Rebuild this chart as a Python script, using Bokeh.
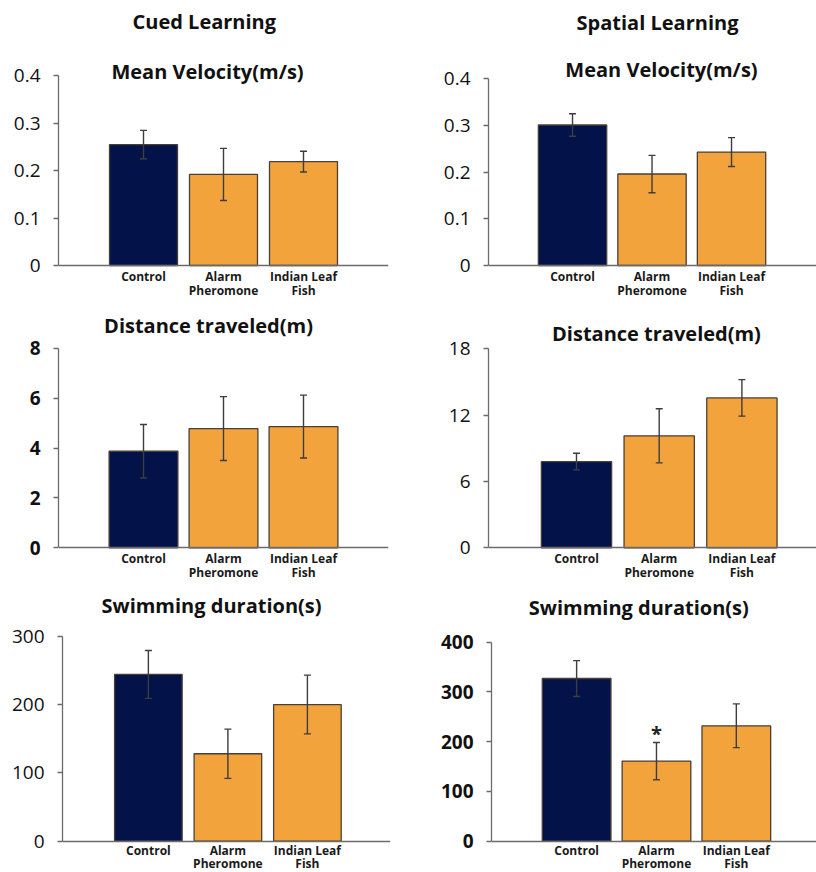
from bokeh.plotting import figure
from bokeh.models import (Range1d, FixedTicker, Whisker, ColumnDataSource,
                          LabelSet, Label, TeeHead)
from bokeh.layouts import column, row
from bokeh.core.properties import value
from bokeh.embed import file_html
from bokeh.resources import INLINE

# ---------------- data ----------------
categories = ["Control", "Alarm\nPheromone", "Indian Leaf\nFish"]
bar_colors = ["#03134a", "#f3a33b", "#f3a33b"]

column_titles = ["Cued Learning", "Spatial Learning"]

cued_velocity = [0.255, 0.192, 0.219]
cued_velocity_err = [0.030, 0.055, 0.022]
cued_distance = [3.87, 4.78, 4.86]
cued_distance_err = [1.07, 1.28, 1.26]
cued_duration = [244, 128, 200]
cued_duration_err = [35, 36, 43]

spatial_velocity = [0.301, 0.196, 0.243]
spatial_velocity_err = [0.024, 0.040, 0.031]
spatial_distance = [7.8, 10.13, 13.56]
spatial_distance_err = [0.75, 2.45, 1.65]
spatial_duration = [327, 161, 232]
spatial_duration_err = [36, 37.5, 44]
spatial_duration_sig = ["", "*", ""]

velocity_ticks = [0, 0.1, 0.2, 0.3, 0.4]
velocity_tick_labels = ["0", "0.1", "0.2", "0.3", "0.4"]
cued_distance_ticks = [0, 2, 4, 6, 8]
cued_distance_tick_labels = ["0", "2", "4", "6", "8"]
spatial_distance_ticks = [0, 6, 12, 18]
spatial_distance_tick_labels = ["0", "6", "12", "18"]
cued_duration_ticks = [0, 100, 200, 300]
cued_duration_tick_labels = ["0", "100", "200", "300"]
spatial_duration_ticks = [0, 100, 200, 300, 400]
spatial_duration_tick_labels = ["0", "100", "200", "300", "400"]

FONT = "Open Sans"
AXIS_COLOR = "#6b6b6b"
ERR_COLOR = "#3d3d3d"
EDGE_TOP = 2  # min border top (px)


def panel(vals, errs, ticks, tick_labels, title, geo, header=None, sig=None,
          bold_ticks=False):
    (w, h, mbl, mbr, mbb, x0, x1, bw, px_top, px_zero,
     tx, tdy, hx, hdy, lab_dy) = geo
    ymax = ticks[-1]
    # frame spans the figure height; place 0 and ymax at the wanted pixels
    frame_h = h - EDGE_TOP - mbb
    scale = (px_zero - px_top) / ymax          # px per data unit
    y_start = -(frame_h - px_zero) / scale
    y_end = ymax + px_top / scale

    p = figure(width=w, height=h, output_backend="svg", toolbar_location=None,
               x_range=Range1d(x0, x1), y_range=Range1d(y_start, y_end),
               min_border_left=mbl, min_border_right=mbr,
               min_border_top=EDGE_TOP, min_border_bottom=mbb,
               background_fill_color="white", border_fill_color="white")
    p.title.visible = False
    p.outline_line_color = None
    p.xgrid.visible = False
    p.ygrid.visible = False

    xs = list(range(len(categories)))
    lines = [c.split("\n") + [""] for c in categories]
    src = ColumnDataSource(dict(
        x=xs, top=vals, color=bar_colors,
        line1=[l[0] for l in lines], line2=[l[1] for l in lines],
        upper=[v + e for v, e in zip(vals, errs)],
        lower=[v - e for v, e in zip(vals, errs)],
        zero=[0] * len(xs),
        sig=sig if sig is not None else [""] * len(xs),
    ))
    p.vbar(x="x", top="top", width=bw, fill_color="color", source=src,
           line_color="#4a3f38", line_width=1.3)

    wh = Whisker(source=src, base="x", upper="upper", lower="lower",
                 line_color=ERR_COLOR, line_width=1.4, level="annotation",
                 upper_head=TeeHead(size=7, line_color=ERR_COLOR, line_width=1.4),
                 lower_head=TeeHead(size=7, line_color=ERR_COLOR, line_width=1.4))
    p.add_layout(wh)

    # y axis (line only between 0 and the top tick)
    ya = p.yaxis[0]
    ya.ticker = FixedTicker(ticks=ticks)
    ya.bounds = (0, ymax)
    ya.major_label_overrides = {t: l for t, l in zip(ticks, tick_labels)}
    ya.axis_line_color = AXIS_COLOR
    ya.axis_line_width = 1.3
    ya.major_tick_line_color = AXIS_COLOR
    ya.major_tick_line_width = 1.3
    ya.major_tick_out = 5
    ya.major_tick_in = 0
    ya.minor_tick_line_color = None
    ya.major_label_standoff = 13
    ya.major_label_text_font = FONT
    ya.major_label_text_font_size = "19px"
    ya.major_label_text_color = "#111111"
    ya.major_label_text_font_style = "bold" if bold_ticks else "normal"

    # x axis: a line at y = 0, category names drawn below it
    xa = p.xaxis[0]
    xa.fixed_location = 0
    xa.ticker = FixedTicker(ticks=[])
    xa.major_label_text_font_size = "0px"
    xa.major_label_standoff = 0
    xa.major_tick_out = 0
    xa.major_tick_in = 0
    xa.minor_tick_out = 0
    xa.minor_tick_in = 0
    xa.axis_line_color = AXIS_COLOR
    xa.axis_line_width = 1.3
    xa.major_tick_line_color = None
    xa.minor_tick_line_color = None

    for field, dy in zip(("line1", "line2"), lab_dy):
        p.add_layout(LabelSet(x="x", y="zero", text=field, source=src,
                              text_align="center", text_baseline="top",
                              y_offset=dy, text_font=value(FONT),
                              text_font_size="12px", text_font_style="bold",
                              text_color="#1a1a1a"))

    if sig is not None:
        p.add_layout(LabelSet(x="x", y="upper", text="sig", source=src,
                              text_align="center", text_baseline="alphabetic",
                              y_offset=1, text_font=value(FONT),
                              text_font_size="20px", text_font_style="bold",
                              text_color="#222222"))

    p.add_layout(Label(x=tx, y=ymax, y_offset=tdy, text=title,
                       text_align="center", text_baseline="middle",
                       text_font=FONT, text_font_size="20px",
                       text_font_style="bold", text_color="#111111"))
    if header is not None:
        p.add_layout(Label(x=hx, y=ymax, y_offset=hdy, text=header,
                           text_align="center", text_baseline="middle",
                           text_font=FONT, text_font_size="20px",
                           text_font_style="bold", text_color="#111111"))
    return p


# geometry: w, h, mb_left, mb_right, mb_bottom, x0, x1, bar_w,
#           px of top tick / of zero (from the frame top),
#           title_x, title_dy, header_x, header_dy, (label line offsets)
g1 = (408, 300, 58, 20, 2, -1.0625, 3.0625, 0.85, 73.3, 263.0, 0.8, 4, 0.76, 54, (-2, -16))
g2 = (408, 300, 80, 0, 2, -1.057, 3.069, 0.86, 76.3, 263.0, 1.119, 9, 1.069, 56, (-2, -16))
g3 = (408, 285, 58, 20, 2, -1.0625, 3.0625, 0.86, 45.7, 245.3, 0.8125, 23, 0, 0, (-2, -16))
g4 = (408, 285, 80, 0, 2, -1.064, 2.902, 0.85, 46.3, 245.3, 0.967, 15, 0, 0, (-2, -16))
g5 = (408, 287, 62, 18, 0, -1.08, 3.045, 0.85, 48.7, 253.7, 0.794, 31, 0, 0, (-1, -14))
g6 = (408, 287, 83, 0, 0, -1.066, 3.004, 0.86, 54.7, 253.7, 0.779, 35, 0, 0, (-1, -14))

p1 = panel(cued_velocity, cued_velocity_err, velocity_ticks, velocity_tick_labels,
           "Mean Velocity(m/s)", g1, header=column_titles[0])
p2 = panel(spatial_velocity, spatial_velocity_err, velocity_ticks, velocity_tick_labels,
           "Mean Velocity(m/s)", g2, header=column_titles[1])
p3 = panel(cued_distance, cued_distance_err, cued_distance_ticks,
           cued_distance_tick_labels, "Distance traveled(m)", g3, bold_ticks=True)
p4 = panel(spatial_distance, spatial_distance_err, spatial_distance_ticks,
           spatial_distance_tick_labels, "Distance traveled(m)", g4)
p5 = panel(cued_duration, cued_duration_err, cued_duration_ticks,
           cued_duration_tick_labels, "Swimming duration(s)", g5)
p6 = panel(spatial_duration, spatial_duration_err, spatial_duration_ticks,
           spatial_duration_tick_labels, "Swimming duration(s)", g6,
           sig=spatial_duration_sig, bold_ticks=True)

layout = column(row(p1, p2), row(p3, p4), row(p5, p6))

with open("out.html", "w") as f:
    f.write(file_html(layout, INLINE))
